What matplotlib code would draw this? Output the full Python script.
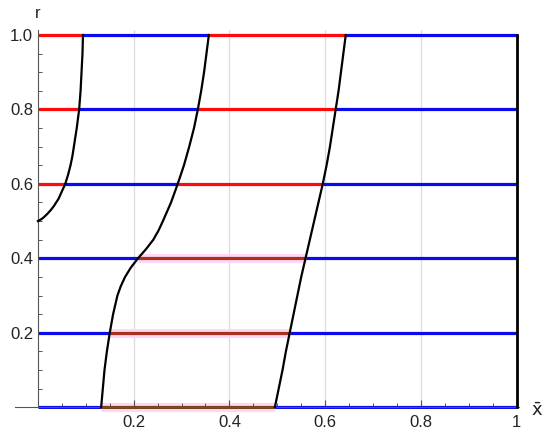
import numpy as np
import matplotlib
matplotlib.use("Agg")
import matplotlib.pyplot as plt
from matplotlib.ticker import MultipleLocator

plt.rcParams['font.family'] = ['Liberation Sans', 'DejaVu Sans']

# r levels of the horizontal lines
levels = [0.0, 0.2, 0.4, 0.6, 0.8, 1.0]

# black curves (x as a function of r)
c1_r = [0.5, 0.505, 0.51, 0.52, 0.53, 0.54, 0.55, 0.56, 0.58, 0.6, 0.625, 0.65,
        0.675, 0.7, 0.75, 0.8, 0.85, 0.9, 0.95, 1.0]
c1_x = [0.0, 0.007, 0.012, 0.020, 0.027, 0.033, 0.038, 0.043, 0.050, 0.057, 0.063, 0.068,
        0.072, 0.075, 0.081, 0.086, 0.089, 0.091, 0.093, 0.094]

c2_r = [0.0, 0.05, 0.1, 0.15, 0.2, 0.25, 0.3, 0.325, 0.35, 0.375, 0.4, 0.425, 0.45,
        0.475, 0.5, 0.55, 0.6, 0.65, 0.7, 0.75, 0.8, 0.85, 0.9, 0.95, 1.0]
c2_x = [0.132, 0.1355, 0.139, 0.144, 0.150, 0.157, 0.166, 0.173, 0.182, 0.194, 0.209, 0.226, 0.241,
        0.252, 0.261, 0.278, 0.292, 0.305, 0.316, 0.326, 0.334, 0.341, 0.347, 0.352, 0.357]

c3_r = [0.0, 0.05, 0.1, 0.15, 0.2, 0.25, 0.3, 0.35, 0.4, 0.45, 0.5, 0.55, 0.6, 0.65,
        0.7, 0.75, 0.8, 0.85, 0.9, 0.95, 1.0]
c3_x = [0.495, 0.503, 0.511, 0.518, 0.526, 0.534, 0.542, 0.550, 0.559, 0.568, 0.577, 0.586,
        0.595, 0.603, 0.610, 0.616, 0.622, 0.628, 0.633, 0.638, 0.643]

x_ticks = [0.2, 0.4, 0.6, 0.8, 1.0]
x_ticklabels = ['0.2', '0.4', '0.6', '0.8', '1']
y_ticks = [0.2, 0.4, 0.6, 0.8, 1.0]
y_ticklabels = ['0.2', '0.4', '0.6', '0.8', '1.0']

RED = '#ff0a0a'
BLUE = '#0a0aee'
BROWN = {0.0: '#7b4418', 0.2: '#a8321e', 0.4: '#a8321e'}
PINK = '#ffd6f3'

fig = plt.figure(figsize=(5.5, 4.38), dpi=100)
ax = fig.add_axes([15 / 550, 29 / 438, 504 / 550, 379 / 438])
ax.set_xlim(-0.048, 1.005)
ax.set_ylim(-0.005, 1.0135)

# grid (vertical only)
for gx in [0.2, 0.4, 0.6, 0.8]:
    ax.axvline(gx, color='#dcdcdc', lw=0.9, zorder=0)

lw_h = 2.3
for r in levels:
    x2 = np.interp(r, c2_r, c2_x)
    x3 = np.interp(r, c3_r, c3_x)
    if r >= 0.5:
        x1 = np.interp(r, c1_r, c1_x)
        ax.plot([0, x1], [r, r], color=RED, lw=lw_h, zorder=2, solid_capstyle='butt')
        ax.plot([x1, x2], [r, r], color=BLUE, lw=lw_h, zorder=2, solid_capstyle='butt')
        ax.plot([x2, x3], [r, r], color=RED, lw=lw_h, zorder=2, solid_capstyle='butt')
        ax.plot([x3, 1], [r, r], color=BLUE, lw=lw_h, zorder=2, solid_capstyle='butt')
    else:
        ax.plot([0, x2], [r, r], color=BLUE, lw=lw_h, zorder=2, solid_capstyle='butt')
        ax.plot([x2, x3], [r, r], color=PINK, lw=6.5, zorder=1,
                solid_capstyle='butt', clip_on=False)
        ax.plot([x2, x3], [r, r], color=BROWN[r], lw=lw_h, zorder=2, solid_capstyle='butt')
        ax.plot([x3, 1], [r, r], color=BLUE, lw=lw_h, zorder=2, solid_capstyle='butt')

ax.plot(c1_x, c1_r, color='black', lw=1.6, zorder=4)
ax.plot(c2_x, c2_r, color='black', lw=1.6, zorder=4)
ax.plot(c3_x, c3_r, color='black', lw=1.6, zorder=4)
ax.plot([1, 1], [0, 1], color='black', lw=2.0, zorder=4)

# axes through the origin
for s in ['top', 'right']:
    ax.spines[s].set_visible(False)
ax.spines['left'].set_position(('data', 0))
ax.spines['bottom'].set_position(('data', 0))
ax.spines['left'].set_bounds(0, 1.0135)
for s in ['left', 'bottom']:
    ax.spines[s].set_color('#555555')
    ax.spines[s].set_linewidth(0.8)

ax.set_xticks(x_ticks)
ax.set_xticklabels(x_ticklabels)
ax.set_yticks(y_ticks)
ax.set_yticklabels(y_ticklabels)
ax.xaxis.set_minor_locator(MultipleLocator(0.05))
ax.yaxis.set_minor_locator(MultipleLocator(0.05))
ax.tick_params(which='major', direction='in', length=5, width=0.8, color='#555555',
               labelsize=12, labelcolor='#222222')
ax.tick_params(axis='x', which='major', pad=6)
ax.tick_params(axis='y', which='major', pad=3.5)
ax.tick_params(which='minor', direction='in', length=3, width=0.7, color='#555555')

ax.text(0, 1.059, 'r', ha='center', va='center', fontsize=12, color='#222222',
        clip_on=False)
ax.text(1.042, -0.01, r'$\bar{\mathsf{x}}$', ha='center', va='center', fontsize=13,
        color='#222222', clip_on=False)

fig.savefig('out.png', dpi=100)
